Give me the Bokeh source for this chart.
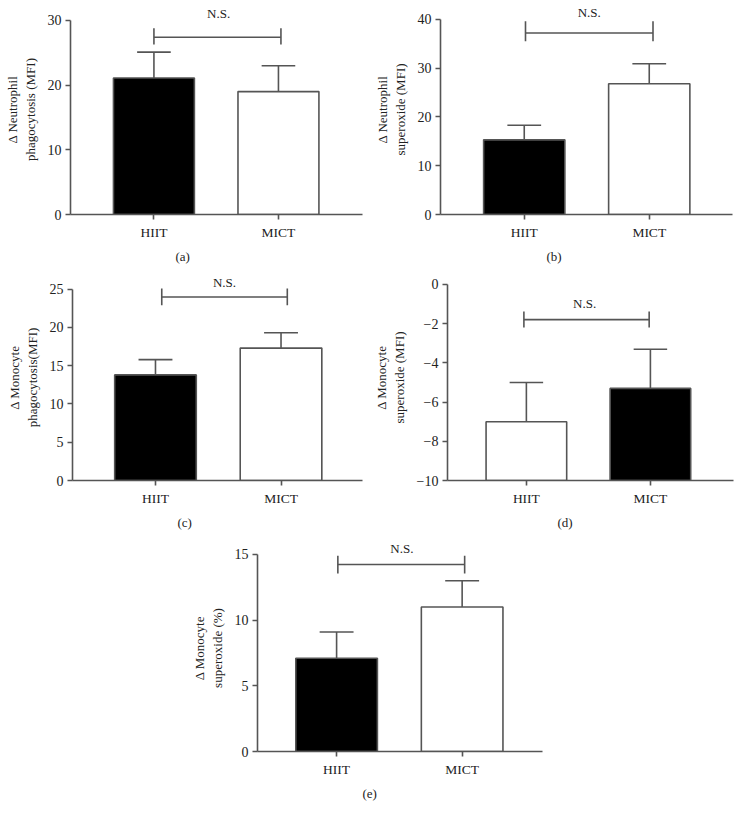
from bokeh.plotting import figure
from bokeh.models import FixedTicker, Label, Spacer, Title
from bokeh.layouts import column, row
from bokeh.embed import file_html
from bokeh.resources import INLINE

# ---------------- data ----------------
groups = ["HIIT", "MICT"]
x_pos = [0, 1]

a_mean = [21.1, 19.0]
a_err = [4.0, 4.0]
a_fill = ["black", "white"]
a_yticks = [0, 10, 20, 30]

b_mean = [15.3, 26.8]
b_err = [3.0, 4.1]
b_fill = ["black", "white"]
b_yticks = [0, 10, 20, 30, 40]

c_mean = [13.8, 17.3]
c_err = [2.0, 2.0]
c_fill = ["black", "white"]
c_yticks = [0, 5, 10, 15, 20, 25]

d_mean = [-7.0, -5.3]
d_err = [2.0, 2.0]
d_fill = ["white", "black"]
d_yticks = [-10, -8, -6, -4, -2, 0]

e_mean = [7.1, 11.0]
e_err = [2.0, 2.0]
e_fill = ["black", "white"]
e_yticks = [0, 5, 10, 15]

sig_text = "N.S."

LINE = "#555555"
TEXT = "#222222"
FONT = "Liberation Serif"


def panel(mean, err, fill, yticks, ylabel, caption, *, width, height, borders,
          x_range, y_range, base, bracket_y, bracket_x, bracket_tick, ns_pos, cap_offset):
    p = figure(width=width, height=height, x_range=x_range, y_range=y_range,
               output_backend="svg", toolbar_location=None,
               min_border_left=borders[0], min_border_right=borders[1],
               min_border_top=borders[2], min_border_bottom=borders[3])
    p.outline_line_color = None
    p.xgrid.visible = False
    p.ygrid.visible = False
    p.background_fill_color = "white"
    p.border_fill_color = "white"

    top_err = [m + e for m, e in zip(mean, err)]
    # error bars (upper only)
    p.segment(x0=x_pos, y0=mean, x1=x_pos, y1=top_err, line_color=LINE, line_width=1.6)
    p.segment(x0=[x - 0.135 for x in x_pos], y0=top_err,
              x1=[x + 0.135 for x in x_pos], y1=top_err, line_color=LINE, line_width=1.6)
    # bars
    p.vbar(x=x_pos, width=0.65, bottom=base, top=mean, fill_color=fill,
           line_color=LINE, line_width=1.6)
    # significance bracket
    p.segment(x0=[bracket_x[0]], y0=[bracket_y], x1=[bracket_x[1]], y1=[bracket_y],
              line_color=LINE, line_width=1.6)
    p.segment(x0=bracket_x, y0=[bracket_tick[0]] * 2, x1=bracket_x, y1=[bracket_tick[1]] * 2,
              line_color=LINE, line_width=1.6)
    p.add_layout(Label(x=ns_pos[0], y=ns_pos[1], text=sig_text, text_font=FONT,
                       text_font_size="13px", text_align="center", text_baseline="middle",
                       text_color=TEXT))

    for ax in (p.xaxis[0], p.yaxis[0]):
        ax.axis_line_color = LINE
        ax.axis_line_width = 1.6
        ax.major_tick_line_color = LINE
        ax.major_tick_line_width = 1.6
        ax.major_tick_out = 5
        ax.major_tick_in = 0
        ax.minor_tick_line_color = None
        ax.major_label_text_font = FONT
        ax.major_label_text_color = TEXT

    p.xaxis.ticker = FixedTicker(ticks=x_pos)
    p.xaxis.major_label_overrides = {x: g for x, g in zip(x_pos, groups)}
    p.xaxis.major_label_standoff = 5
    p.xaxis.major_label_text_font_size = "13.5px"

    p.yaxis.ticker = FixedTicker(ticks=yticks)
    p.yaxis.bounds = (yticks[0], yticks[-1])
    p.yaxis.major_label_standoff = 4
    p.yaxis.major_label_text_font_size = "14px"
    p.yaxis.axis_label = ylabel
    p.yaxis.axis_label_text_font = FONT
    p.yaxis.axis_label_text_font_size = "13px"
    p.yaxis.axis_label_text_font_style = "normal"
    p.yaxis.axis_label_text_color = TEXT
    p.yaxis.axis_label_standoff = 7

    p.add_layout(Title(text=caption, align="left", offset=cap_offset, text_font=FONT,
                       text_font_size="13px", text_font_style="normal", text_color=TEXT,
                       standoff=8), "below")
    return p


pa = panel(a_mean, a_err, a_fill, a_yticks, "\u0394 Neutrophil\nphagocytosis (MFI)", "(a)",
           width=370, height=270, borders=(70, 8, 4, 56),
           x_range=(-0.67, 1.675), y_range=(0, 32.47), base=0,
           bracket_y=27.4, bracket_x=[0.0, 1.02], bracket_tick=(26.3, 28.8),
           ns_pos=(0.52, 31.1), cap_offset=105)

pb = panel(b_mean, b_err, b_fill, b_yticks, "\u0394 Neutrophil\nsuperoxide (MFI)", "(b)",
           width=366, height=270, borders=(70, 4, 4, 54),
           x_range=(-0.67, 1.666), y_range=(0, 43.05), base=0,
           bracket_y=37.2, bracket_x=[0.01, 1.03], bracket_tick=(35.5, 39.6),
           ns_pos=(0.52, 41.4), cap_offset=106)

pc = panel(c_mean, c_err, c_fill, c_yticks, "\u0394 Monocyte\nphagocytosis(MFI)", "(c)",
           width=370, height=270, borders=(72, 8, 4, 56),
           x_range=(-0.661, 1.649), y_range=(0, 26.92), base=0,
           bracket_y=23.97, bracket_x=[0.05, 1.05], bracket_tick=(22.9, 25.1),
           ns_pos=(0.55, 25.9), cap_offset=105)

pd_ = panel(d_mean, d_err, d_fill, d_yticks, "\u0394 Monocyte\nsuperoxide (MFI)", "(d)",
            width=366, height=270, borders=(74, 3, 4, 60),
            x_range=(-0.636, 1.67), y_range=(-10, 0.51), base=-10,
            bracket_y=-1.79, bracket_x=[-0.02, 0.99], bracket_tick=(-2.2, -1.38),
            ns_pos=(0.47, -0.97), cap_offset=110)

pe = panel(e_mean, e_err, e_fill, e_yticks, "\u0394 Monocyte\nsuperoxide (%)", "(e)",
           width=370, height=272, borders=(77, 8, 4, 61),
           x_range=(-0.63, 1.64), y_range=(0, 15.76), base=0,
           bracket_y=14.24, bracket_x=[0.01, 1.02], bracket_tick=(13.55, 14.9),
           ns_pos=(0.52, 15.46), cap_offset=105)

layout = column(row(pa, pb), row(pc, pd_), row(Spacer(width=180, height=272), pe))

open("out.html", "w").write(file_html(layout, INLINE))
